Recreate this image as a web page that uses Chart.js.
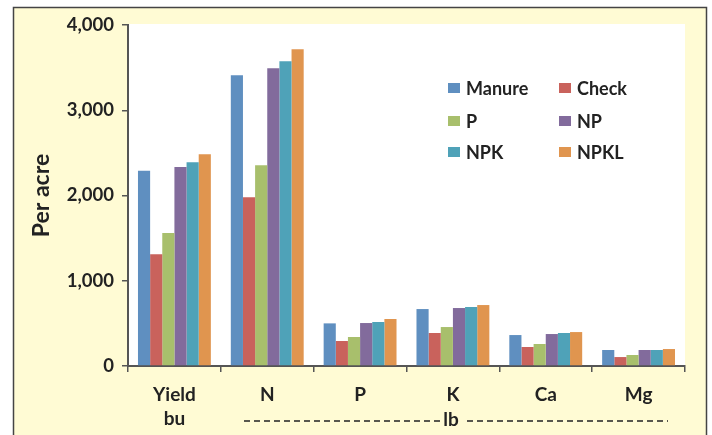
<!DOCTYPE html>
<html>
<head>
<meta charset="utf-8">
<script src="https://cdn.jsdelivr.net/npm/chart.js@4.4.1/dist/chart.umd.min.js"></script>
<style>
  html, body { margin: 0; padding: 0; background: #ffffff; }
  #wrap { position: relative; width: 712px; height: 435px; }
</style>
</head>
<body>
<div id="wrap"><canvas id="chart" width="712" height="435"></canvas></div>
<script>
  'use strict';

  // Data.
  const categories = [['Yield', 'bu'], 'N', 'P', 'K', 'Ca', 'Mg'];
  const seriesNames = ['Manure', 'Check', 'P', 'NP', 'NPK', 'NPKL'];
  const manure = [2290, 3410, 500, 668, 363, 188];
  const check = [1310, 1980, 293, 387, 223, 105];
  const pOnly = [1560, 2356, 340, 457, 258, 129];
  const np = [2333, 3493, 504, 680, 375, 188];
  const npk = [2391, 3576, 516, 692, 387, 188];
  const npkl = [2485, 3716, 551, 715, 398, 199];
  const yTicks = [0, 1000, 2000, 3000, 4000];

  const seriesValues = [manure, check, pOnly, np, npk, npkl];
  const colors = ['#5f8fc0', '#c9625c', '#a8bf6c', '#826b9c', '#4fa2b8', '#e0954f'];

  const FONT = 'Lato, "Noto Sans", sans-serif';
  const INK = '#222222';
  const AXIS = '#555555';

  // ===========================================================================
  // PLUGINS
  // ===========================================================================

  // Yellow frame behind the white plot area.
  const framePlugin = {
    id: 'frame',
    beforeDraw(chart) {
      const ctx = chart.ctx;
      const a = chart.chartArea;
      ctx.save();
      ctx.fillStyle = '#ffffff';
      ctx.fillRect(0, 0, chart.width, chart.height);
      ctx.fillStyle = '#fffbd4';
      ctx.fillRect(14, 8, 692, chart.height);
      ctx.strokeStyle = '#444444';
      ctx.lineWidth = 1.5;
      ctx.beginPath();
      ctx.moveTo(13.5, chart.height + 2);
      ctx.lineTo(13.5, 7.5);
      ctx.lineTo(706.5, 7.5);
      ctx.lineTo(706.5, chart.height + 2);
      ctx.stroke();
      ctx.fillStyle = '#ffffff';
      ctx.fillRect(a.left, a.top - 1, a.right - a.left, a.bottom - a.top + 1);
      ctx.restore();
    },
  };

  // Two-column legend inside the plot, plus the dashed "lb" bracket.
  const extrasPlugin = {
    id: 'extras',
    afterDraw(chart) {
      const ctx = chart.ctx;
      ctx.save();
      const colX = [448, 559];
      const rowY = [83, 116, 147];
      ctx.font = 'bold 18px ' + FONT;
      ctx.textBaseline = 'middle';
      ctx.textAlign = 'left';
      chart.data.datasets.forEach((ds, i) => {
        const x = colX[i % 2];
        const y = rowY[Math.floor(i / 2)];
        ctx.fillStyle = ds.backgroundColor;
        ctx.fillRect(x, y, 12, 10);
        ctx.fillStyle = INK;
        ctx.fillText(ds.label, x + 18, y + 6);
      });

      // "lb" label across the nutrient groups.
      ctx.font = 'bold 19px ' + FONT;
      ctx.textAlign = 'center';
      ctx.fillText('lb', 451, 420);
      ctx.strokeStyle = INK;
      ctx.lineWidth = 1.5;
      ctx.setLineDash([6, 4]);
      ctx.beginPath();
      ctx.moveTo(244, 421);
      ctx.lineTo(441, 421);
      ctx.moveTo(467, 421);
      ctx.lineTo(668, 421);
      ctx.stroke();
      ctx.restore();
    },
  };

  // ===========================================================================
  // CHART
  // ===========================================================================

  new Chart(document.getElementById('chart'), {
    type: 'bar',
    data: {
      labels: categories,
      datasets: seriesNames.map((name, i) => ({
        label: name,
        data: seriesValues[i],
        backgroundColor: colors[i],
        borderWidth: 0,
        barPercentage: 1,
        categoryPercentage: 0.785,
      })),
    },
    options: {
      responsive: false,
      animation: false,
      layout: { padding: { left: 0, top: 25, right: 27, bottom: 0 } },
      plugins: {
        legend: { display: false },
        tooltip: { enabled: false },
      },
      scales: {
        x: {
          afterFit(scale) { scale.height = 69; },
          grid: {
            drawOnChartArea: false,
            drawTicks: true,
            tickLength: 6,
            color: AXIS,
            lineWidth: 1.5,
          },
          border: { display: true, color: AXIS, width: 2 },
          ticks: {
            color: INK,
            padding: 11,
            font: { family: FONT, size: 19, weight: 'bold', lineHeight: 1.25 },
          },
        },
        y: {
          min: 0,
          max: 4000,
          afterFit(scale) { scale.width = 128; },
          afterBuildTicks(scale) {
            scale.ticks = yTicks.map(v => ({ value: v }));
          },
          grid: {
            drawOnChartArea: false,
            drawTicks: true,
            tickLength: 6,
            color: AXIS,
            lineWidth: 1.5,
          },
          border: { display: true, color: AXIS, width: 2 },
          ticks: {
            color: INK,
            padding: 8,
            font: { family: FONT, size: 18.5, weight: 'bold' },
            callback: v => v.toLocaleString('en-US'),
          },
          title: {
            display: true,
            text: 'Per acre',
            color: INK,
            padding: { top: 28, bottom: 0 },
            font: { family: FONT, size: 23, weight: 'bold' },
          },
        },
      },
    },
    plugins: [framePlugin, extrasPlugin],
  });
</script>
</body>
</html>
